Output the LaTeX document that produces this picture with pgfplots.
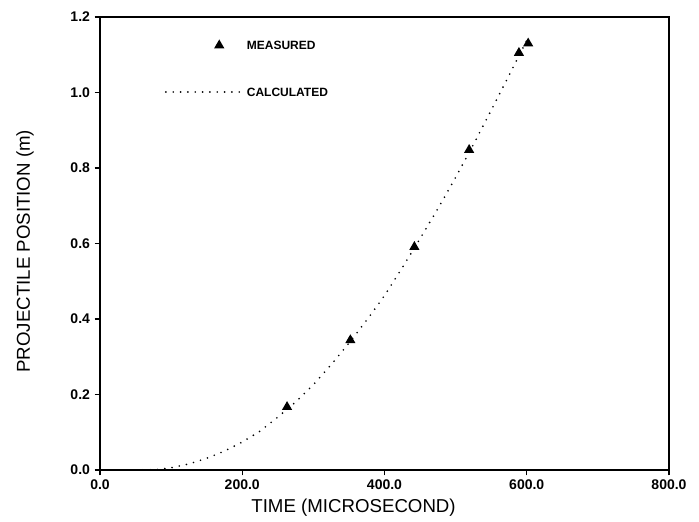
\documentclass[border=0pt]{standalone}
\usepackage{fontspec}
\setmainfont{Liberation Sans}
\usepackage{pgfplots}
\pgfplotsset{compat=1.18}
\pgfplotsset{
  measlegend/.style={legend image code/.code={\path[draw=none] (0pt,0pt) -- (56pt,0pt); \path[##1, draw=none] plot coordinates {(40pt,0pt)};}},
  calclegend/.style={legend image code/.code={\draw[##1] (0pt,0pt) -- (56pt,0pt);}},
}
\begin{document}
\begin{tikzpicture}
\begin{axis}[
  scale only axis, width=426.75pt, height=339.75pt,
  xmin=0, xmax=800, ymin=0, ymax=1.2,
  xtick={0,200,400,600,800},
  ytick={0,0.2,0.4,0.6,0.8,1.0,1.2},
  xtick pos=bottom, ytick pos=left, tick align=outside,
  major tick length=4pt,
  axis line style={line width=1.5pt},
  tick style={line width=1.1pt, black},
  x tick label style={/pgf/number format/.cd, fixed, fixed zerofill, precision=1, assume math mode=true},
  y tick label style={/pgf/number format/.cd, fixed, fixed zerofill, precision=1, assume math mode=true},
  tick label style={font=\bfseries\fontsize{10.5}{12}\selectfont},
  xlabel={TIME (MICROSECOND)},
  ylabel={PROJECTILE POSITION (m)},
  label style={font=\fontsize{14}{16}\selectfont},
  xlabel style={at={(axis description cs:0.4456,-0.084)}, anchor=center},
  ylabel style={at={(axis description cs:-0.1316,0.483)}, anchor=center},
  legend cell align=left,
  legend style={draw=none, fill=none, at={(axis cs:91,1.138)}, anchor=north west,
    inner sep=0pt, row sep=28pt, column sep=4pt,
    font=\bfseries\fontsize{9}{9}\selectfont,
    nodes={inner sep=0pt, text height=7pt, text depth=0pt}},
]
\addplot[only marks, mark=triangle*, mark size=3.2pt, mark options={line width=1.2pt, draw=black, fill=black}, measlegend]
  coordinates {(263,0.167)(352,0.344)(442,0.591)(519,0.848)(589,1.105)(602,1.130)};
\addlegendentry{MEASURED}
\addplot[black, line width=1.4pt, line cap=round, dash pattern=on 0pt off 5.5pt, calclegend]
  coordinates {(50,0)(80,0.001)(100,0.006)(125,0.016)(150,0.031)(175,0.050)(200,0.074)
  (225,0.103)(250,0.140)(275,0.180)(300,0.226)(325,0.279)(350,0.336)(375,0.397)
  (400,0.462)(425,0.536)(450,0.613)(475,0.692)(500,0.775)(525,0.862)(550,0.953)
  (575,1.045)(600,1.138)};
\addlegendentry{CALCULATED}
\end{axis}
\path[use as bounding box] (-75pt,-38.25pt) rectangle (449.25pt,352.5pt);
\end{tikzpicture}
\end{document}
